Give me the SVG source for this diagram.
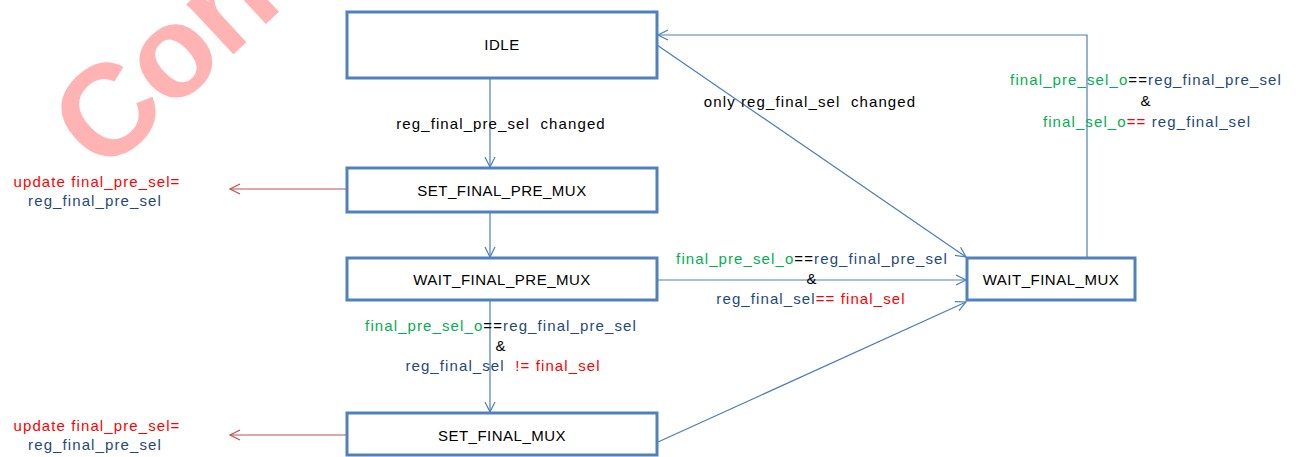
<svg xmlns="http://www.w3.org/2000/svg" width="1301" height="457" viewBox="0 0 1301 457">
<style>
text{font-family:"Liberation Sans",Arial,sans-serif;font-size:15px;fill:#000;white-space:pre}
.lb{letter-spacing:1.1px}
.bt{letter-spacing:0.5px}
.box{fill:#fff;stroke:#4f81bd;stroke-width:3}
.c{fill:none;stroke:#4a7ebb;stroke-width:1.2}
.r{fill:none;stroke:#c0504d;stroke-width:1.2}
.g{fill:#00b050}.b{fill:#1f497d}.red{fill:#ff0000}.k{fill:#000}
.wm{font-family:"Liberation Sans",Arial,sans-serif;font-size:130px;font-weight:bold;fill:#ffb3b3;letter-spacing:-2px}
</style>
<defs>
<marker id="ab" markerUnits="userSpaceOnUse" markerWidth="14" markerHeight="14" refX="11" refY="6" orient="auto">
<path d="M1,1 L11,6 L1,11" fill="none" stroke="#4a7ebb" stroke-width="1.2"/>
</marker>
<marker id="ar" markerUnits="userSpaceOnUse" markerWidth="14" markerHeight="14" refX="11" refY="6" orient="auto">
<path d="M1,1 L11,6 L1,11" fill="none" stroke="#c0504d" stroke-width="1.2"/>
</marker>
</defs>
<rect width="1301" height="457" fill="#fff"/>
<text class="wm" transform="translate(103,176) rotate(-43)">Con</text>
<g id="connectors">
<line class="c" x1="490" y1="79" x2="490" y2="167" marker-end="url(#ab)"/>
<line class="c" x1="490" y1="212" x2="490" y2="257" marker-end="url(#ab)"/>
<line class="c" x1="490" y1="301" x2="490" y2="412" marker-end="url(#ab)"/>
<line class="c" x1="657" y1="280" x2="966" y2="280" marker-end="url(#ab)"/>
<line class="c" x1="657" y1="45" x2="966" y2="257" marker-end="url(#ab)"/>
<line class="c" x1="658" y1="442" x2="966" y2="302" marker-end="url(#ab)"/>
<polyline class="c" points="1087,257 1087,35 658,35" marker-end="url(#ab)"/>
<line class="r" x1="346" y1="189" x2="230" y2="189" marker-end="url(#ar)"/>
<line class="r" x1="346" y1="435" x2="230" y2="435" marker-end="url(#ar)"/>
</g>
<g id="idle"><rect class="box" x="347" y="12" width="310" height="66"/><text class="bt" x="502" y="50" text-anchor="middle">IDLE</text></g>
<g id="set_final_pre_mux"><rect class="box" x="347" y="168" width="310" height="44"/><text class="bt" x="502" y="196" text-anchor="middle">SET_FINAL_PRE_MUX</text></g>
<g id="wait_final_pre_mux"><rect class="box" x="347" y="258" width="310" height="42"/><text class="bt" x="502" y="285" text-anchor="middle">WAIT_FINAL_PRE_MUX</text></g>
<g id="set_final_mux"><rect class="box" x="347" y="413" width="310" height="42"/><text class="bt" x="502" y="441" text-anchor="middle">SET_FINAL_MUX</text></g>
<g id="wait_final_mux"><rect class="box" x="967" y="258" width="168" height="42"/><text class="bt" x="1051" y="285" text-anchor="middle">WAIT_FINAL_MUX</text></g>
<g id="labels">
<text class="lb" x="501" y="129" text-anchor="middle">reg_final_pre_sel  changed</text>
<text class="lb" x="810" y="107" text-anchor="middle">only reg_final_sel  changed</text>
<text class="lb" x="1146" y="85" text-anchor="middle"><tspan class="g">final_pre_sel_o</tspan><tspan class="k">==</tspan><tspan class="b">reg_final_pre_sel</tspan></text>
<text class="lb" x="1146" y="106" text-anchor="middle">&amp;</text>
<text class="lb" x="1147" y="127" text-anchor="middle"><tspan class="g">final_sel_o</tspan><tspan class="red">==</tspan><tspan class="b"> reg_final_sel</tspan></text>
<text class="lb" x="812" y="264" text-anchor="middle"><tspan class="g">final_pre_sel_o</tspan><tspan class="k">==</tspan><tspan class="b">reg_final_pre_sel</tspan></text>
<text class="lb" x="812" y="284" text-anchor="middle">&amp;</text>
<text class="lb" x="811" y="304" text-anchor="middle"><tspan class="b">reg_final_sel</tspan><tspan class="red">== final_sel</tspan></text>
<text class="lb" x="501" y="331" text-anchor="middle"><tspan class="g">final_pre_sel_o</tspan><tspan class="k">==</tspan><tspan class="b">reg_final_pre_sel</tspan></text>
<text class="lb" x="501" y="351" text-anchor="middle">&amp;</text>
<text class="lb" x="503" y="371" text-anchor="middle"><tspan class="b">reg_final_sel  </tspan><tspan class="red">!= final_sel</tspan></text>
<text class="lb red" x="97" y="187" text-anchor="middle">update final_pre_sel=</text>
<text class="lb b" x="95" y="206" text-anchor="middle">reg_final_pre_sel</text>
<text class="lb red" x="97" y="431" text-anchor="middle">update final_pre_sel=</text>
<text class="lb b" x="95" y="450" text-anchor="middle">reg_final_pre_sel</text>
</g>
</svg>
